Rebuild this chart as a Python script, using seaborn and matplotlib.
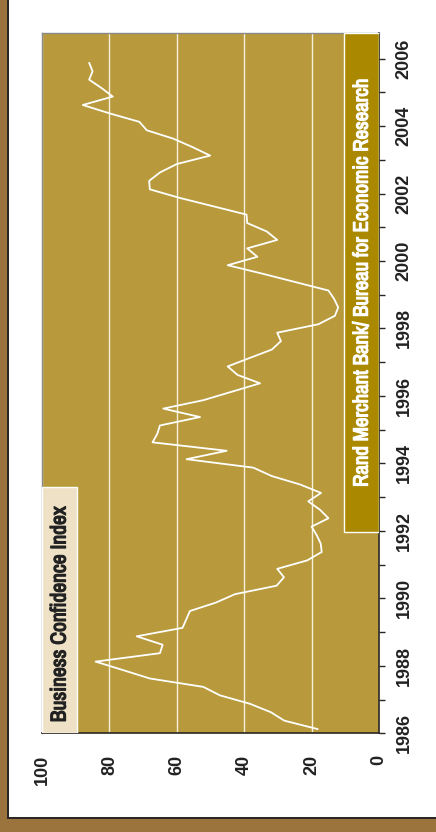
import numpy as np
import pandas as pd
import matplotlib
matplotlib.use("Agg")
import matplotlib.pyplot as plt
import matplotlib.patheffects as pe
from matplotlib.patches import Rectangle
import seaborn as sns

# Quarterly RMB/BER Business Confidence Index, 1986 Q1 - 2005 Q4
years = [
    1986.125, 1986.375, 1986.625, 1986.875,
    1987.125, 1987.375, 1987.625, 1987.875,
    1988.125, 1988.375, 1988.625, 1988.875,
    1989.125, 1989.375, 1989.625, 1989.875,
    1990.125, 1990.375, 1990.625, 1990.875,
    1991.125, 1991.375, 1991.625, 1991.875,
    1992.125, 1992.375, 1992.625, 1992.875,
    1993.125, 1993.375, 1993.625, 1993.875,
    1994.125, 1994.375, 1994.625, 1994.875,
    1995.125, 1995.375, 1995.625, 1995.875,
    1996.125, 1996.375, 1996.625, 1996.875,
    1997.125, 1997.375, 1997.625, 1997.875,
    1998.125, 1998.375, 1998.625, 1998.875,
    1999.125, 1999.375, 1999.625, 1999.875,
    2000.125, 2000.375, 2000.625, 2000.875,
    2001.125, 2001.375, 2001.625, 2001.875,
    2002.125, 2002.375, 2002.625, 2002.875,
    2003.125, 2003.375, 2003.625, 2003.875,
    2004.125, 2004.375, 2004.625, 2004.875,
    2005.125, 2005.375, 2005.625, 2005.875,
]
bci = [
    18.2, 28.1, 32.1, 38.3,
    47.2, 52.1, 68.0, 76.0,
    84.1, 65.0, 64.2, 71.9,
    58.3, 57.2, 56.1, 48.4,
    42.7, 30.4, 28.2, 30.2,
    21.3, 17.0, 17.3, 18.5,
    20.0, 15.0, 17.5, 21.0,
    17.2, 23.4, 31.8, 37.3,
    57.1, 45.2, 67.2, 65.8,
    65.0, 53.1, 64.0, 52.1,
    43.7, 35.3, 42.0, 44.9,
    38.4, 31.8, 29.1, 30.2,
    18.0, 13.1, 12.1, 13.3,
    15.0, 24.8, 34.6, 44.9,
    36.1, 39.1, 30.2, 33.3,
    39.1, 39.3, 49.3, 59.3,
    68.0, 68.2, 65.0, 60.0,
    50.1, 55.3, 61.0, 68.9,
    71.1, 79.9, 87.9, 79.0,
    82.3, 86.0, 85.0, 86.0,
]
value_ticks = [0, 20, 40, 60, 80, 100]
year_ticks = list(range(1986, 2007, 2))
title_text = "Business Confidence Index"
source_text = "Rand Merchant Bank/ Bureau for Economic Research"

df = pd.DataFrame({"year": years, "bci": bci})

sns.set_style("white")
plt.rcParams["font.family"] = ["Liberation Sans", "DejaVu Sans"]
plt.rcParams["font.weight"] = "bold"
narrow = ["Archivo Narrow", "Liberation Sans", "DejaVu Sans"]

W, H = 436, 832
fig = plt.figure(figsize=(W / 100, H / 100), dpi=100)
fig.patch.set_facecolor("white")

# page frame: brown strip on the left and along the bottom, with a dark rule
brown = "#9B733D"
dark = "#2B2722"
fig.patches.append(Rectangle((0, 0), 7 / W, 1, transform=fig.transFigure,
                             facecolor=brown, edgecolor="none", zorder=0))
fig.patches.append(Rectangle((0, 0), 1, 13 / H, transform=fig.transFigure,
                             facecolor=brown, edgecolor="none", zorder=0))
fig.patches.append(Rectangle((7 / W, 13 / H), 2 / W, 1 - 13 / H, transform=fig.transFigure,
                             facecolor=dark, edgecolor="none", zorder=1))
fig.patches.append(Rectangle((7 / W, 13 / H), 1 - 7 / W, 2 / H, transform=fig.transFigure,
                             facecolor=dark, edgecolor="none", zorder=1))

left, right, top, bottom = 42, 379, 33.3, 733.3
ax = fig.add_axes([left / W, (H - bottom) / H, (right - left) / W, (bottom - top) / H])
ax.set_facecolor("#B89A3C")

sns.lineplot(data=df, x="bci", y="year", sort=False, estimator=None,
             color="white", lw=1.3, ax=ax, zorder=5)

ax.set_xlim(100, 0)
ax.set_ylim(1986, 2006.75)
ax.set_xlabel("")
ax.set_ylabel("")

ax.set_xticks(value_ticks)
ax.set_xticklabels([str(v) for v in value_ticks], rotation=90)
ax.set_yticks(year_ticks)
ax.set_yticks(range(1987, 2006, 2), minor=True)
ax.set_yticklabels([str(y) for y in year_ticks], rotation=90, va="center")
ax.yaxis.tick_right()

ax.tick_params(axis="x", direction="out", length=4.5, width=1, color=dark,
               pad=11, labelsize=13, labelcolor="#222222")
ax.tick_params(axis="y", which="both", direction="out", length=4, width=1, color=dark,
               pad=8, labelsize=13, labelcolor="#222222", left=False, right=True)
for lab in ax.get_xticklabels() + ax.get_yticklabels():
    lab.set_fontweight("bold")
    lab.set_fontfamily(["Liberation Sans", "DejaVu Sans"])

ax.xaxis.grid(True, color="#F6F0DA", lw=1.0)
ax.yaxis.grid(False)
ax.set_axisbelow(True)

for side in ["left", "top"]:
    ax.spines[side].set_color("#8A8A8A")
    ax.spines[side].set_linewidth(1.0)
for side in ["right", "bottom"]:
    ax.spines[side].set_color(dark)
    ax.spines[side].set_linewidth(1.2)

# source band along the right, title band at the lower left
src_lo = 1991.98
ax.add_patch(Rectangle((0, src_lo), 10.4, 2006.75 - src_lo, facecolor="#AA8800",
                       edgecolor="white", lw=1.0, zorder=3))
ax.text(5.0, (src_lo + 2006.75) / 2, source_text, rotation=90, ha="center", va="center",
        color="white", fontsize=15, fontweight="normal", family=narrow, zorder=4,
        path_effects=[pe.withStroke(linewidth=0.9, foreground="white")])

ttl_hi = 1993.31
ax.add_patch(Rectangle((89.6, 1986), 10.4, ttl_hi - 1986, facecolor="#EEE1C6",
                       edgecolor="white", lw=1.0, zorder=3))
ax.text(94.8, 1989.52, title_text, rotation=90, ha="center", va="center",
        color="#222222", fontsize=15.5, fontweight="normal", family=narrow, zorder=4,
        path_effects=[pe.withStroke(linewidth=0.9, foreground="#222222")])

fig.savefig("out.png", dpi=100)
